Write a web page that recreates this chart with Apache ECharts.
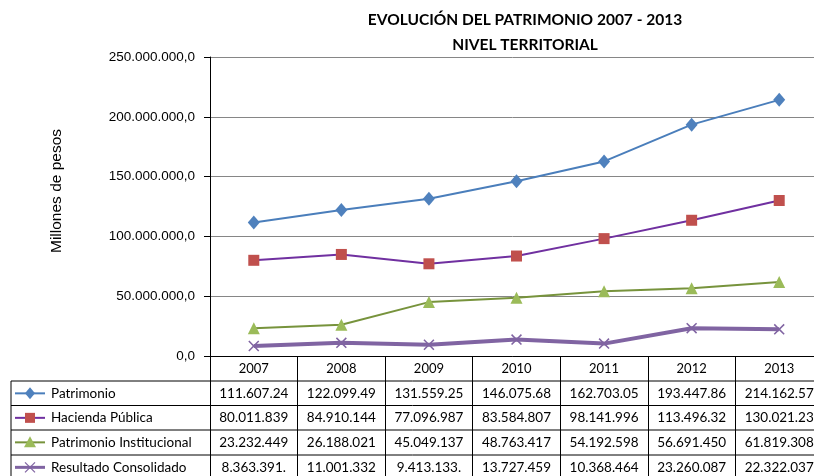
<!doctype html>
<html>
<head>
<meta charset="utf-8">
<title>Evolución del patrimonio 2007 - 2013</title>
<script src="https://cdn.jsdelivr.net/npm/echarts@6/dist/echarts.min.js"></script>
<style>
    html, body { margin: 0; padding: 0; background: #fff; }
    #main { width: 814px; height: 476px; }
</style>
</head>
<body>
<div id="main"></div>
<script>
    var years = ['2007', '2008', '2009', '2010', '2011', '2012', '2013'];
    var patrimonio = [111607240, 122099490, 131559250, 146075680, 162703050, 193447860, 214162570];
    var hacienda = [80011839, 84910144, 77096987, 83584807, 98141996, 113496320, 130021230];
    var institucional = [23232449, 26188021, 45049137, 48763417, 54192598, 56691450, 61819308];
    var resultado = [8363391, 11001332, 9413133, 13727459, 10368464, 23260087, 22322037];
    var yTicks = [0, 50000000, 100000000, 150000000, 200000000, 250000000];

    var nombres = ['Patrimonio', 'Hacienda Pública', 'Patrimonio Institucional', 'Resultado Consolidado'];
    var lineColors = ['#4a7ebb', '#7030a0', '#77933c', '#8064a2'];
    var markColors = ['#4f81bd', '#c0504d', '#9bbb59', '#8064a2'];
    var valores = [patrimonio, hacienda, institucional, resultado];

    var xPath = 'path://M0,1L1,0L5,4L9,0L10,1L6,5L10,9L9,10L5,6L1,10L0,9L4,5Z';

    function puntos(n) {
        return String(n).replace(/\B(?=(\d{3})+(?!\d))/g, '.');
    }
    // la tabla muestra el valor cortado a 10 caracteres
    function celda(n) {
        return (puntos(n) + '.').slice(0, 10);
    }

    var myChart = echarts.init(document.getElementById('main'));

    var option = {
        animation: false,
        title: {
            text: 'EVOLUCIÓN DEL PATRIMONIO 2007 - 2013\nNIVEL TERRITORIAL',
            left: 520,
            top: 2,
            textAlign: 'center',
            textStyle: {
                fontFamily: 'Lato',
                fontWeight: 'bold',
                fontSize: 15.5,
                lineHeight: 25,
                color: '#000'
            }
        },
        grid: {
            left: 210,
            right: -9,
            top: 57,
            bottom: 120,
            containLabel: false,
            outerBoundsMode: 'none'
        },
        xAxis: [{
            type: 'category',
            data: years,
            boundaryGap: true,
            axisLine: { lineStyle: { color: '#000', width: 1 } },
            axisTick: { show: true, interval: 0, length: 125, lineStyle: { color: '#000' } },
            axisLabel: {
                interval: 0,
                margin: 6,
                fontFamily: 'Lato',
                fontSize: 13,
                color: '#000'
            },
            splitLine: { show: false }
        }],
        yAxis: [{
            type: 'value',
            min: yTicks[0],
            max: yTicks[yTicks.length - 1],
            interval: yTicks[1] - yTicks[0],
            axisLine: { show: true, lineStyle: { color: '#000' } },
            axisTick: { show: true, length: 6, lineStyle: { color: '#000' } },
            axisLabel: {
                margin: 15,
                fontFamily: 'Liberation Sans',
                fontSize: 13.5,
                color: '#000',
                formatter: function (v) { return puntos(v) + ',0'; }
            },
            splitLine: { show: true, lineStyle: { color: '#868686', width: 1 } }
        }],
        series: [
            {
                name: nombres[0], type: 'line', data: patrimonio,
                symbol: 'diamond', symbolSize: [12, 14],
                lineStyle: { color: lineColors[0], width: 2 },
                itemStyle: { color: markColors[0] }
            },
            {
                name: nombres[1], type: 'line', data: hacienda,
                symbol: 'rect', symbolSize: 11,
                lineStyle: { color: lineColors[1], width: 2 },
                itemStyle: { color: markColors[1] }
            },
            {
                name: nombres[2], type: 'line', data: institucional,
                symbol: 'triangle', symbolSize: 12,
                lineStyle: { color: lineColors[2], width: 2 },
                itemStyle: { color: markColors[2] }
            },
            {
                name: nombres[3], type: 'line', data: resultado,
                symbol: xPath, symbolSize: 11,
                lineStyle: { color: lineColors[3], width: 4 },
                itemStyle: { color: markColors[3] }
            }
        ]
    };

    myChart.setOption(option);

    // tabla de datos bajo el eje
    var centros = years.map(function (y) {
        return myChart.convertToPixel({ xAxisIndex: 0 }, y);
    });
    var filas = [381, 405.5, 430, 455];
    var alto = 24.7;
    var graficos = [];

    // titulo del eje vertical
    graficos.push({
        type: 'text',
        x: 57, y: 191,
        rotation: Math.PI / 2,
        style: {
            text: 'Millones de pesos',
            fontFamily: 'Liberation Sans', fontSize: 15.5, fill: '#000',
            textAlign: 'center', textVerticalAlign: 'middle'
        }
    });

    filas.forEach(function (yTop) {
        graficos.push({
            type: 'line',
            shape: { x1: 11, y1: yTop, x2: 814, y2: yTop },
            style: { stroke: '#000', lineWidth: 1 }
        });
    });
    graficos.push({
        type: 'line',
        shape: { x1: 11, y1: 381, x2: 11, y2: 476 },
        style: { stroke: '#000', lineWidth: 1 }
    });

    nombres.forEach(function (nom, k) {
        var cy = filas[k] + alto / 2;
        graficos.push({
            type: 'line',
            shape: { x1: 15, y1: cy, x2: 45, y2: cy },
            style: { stroke: lineColors[k], lineWidth: k === 3 ? 3 : 2 }
        });
        var cx = 30;
        if (k === 0) {
            graficos.push({ type: 'polygon', shape: { points: [[cx, cy - 6], [cx + 5, cy], [cx, cy + 6], [cx - 5, cy]] }, style: { fill: markColors[0] } });
        } else if (k === 1) {
            graficos.push({ type: 'rect', shape: { x: cx - 5, y: cy - 5, width: 10, height: 10 }, style: { fill: markColors[1] } });
        } else if (k === 2) {
            graficos.push({ type: 'polygon', shape: { points: [[cx, cy - 6], [cx + 6, cy + 5], [cx - 6, cy + 5]] }, style: { fill: markColors[2] } });
        } else {
            graficos.push({ type: 'polyline', shape: { points: [[cx - 5, cy - 5], [cx + 5, cy + 5]] }, style: { stroke: markColors[3], lineWidth: 1.3 } });
            graficos.push({ type: 'polyline', shape: { points: [[cx - 5, cy + 5], [cx + 5, cy - 5]] }, style: { stroke: markColors[3], lineWidth: 1.3 } });
        }
        graficos.push({
            type: 'text',
            x: 51, y: cy,
            style: {
                text: nom,
                fontFamily: 'Lato', fontSize: 13.5, fill: '#000',
                textAlign: 'left', textVerticalAlign: 'middle'
            }
        });
        valores[k].forEach(function (v, i) {
            graficos.push({
                type: 'text',
                x: centros[i], y: cy,
                style: {
                    text: celda(v),
                    fontFamily: 'Lato', fontSize: 13.5, fill: '#000',
                    textAlign: 'center', textVerticalAlign: 'middle'
                }
            });
        });
    });

    myChart.setOption({ graphic: graficos });
</script>
</body>
</html>
